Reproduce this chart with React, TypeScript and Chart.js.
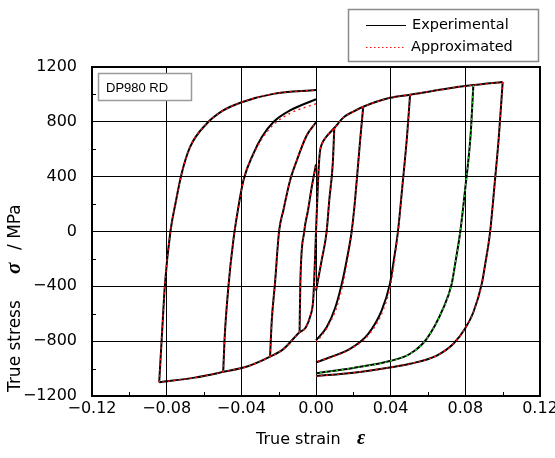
import React, { useEffect, useRef } from 'react';
import { Chart, registerables } from 'chart.js';

Chart.register(...registerables);

// ---- axis ticks ----
const xTickValues = [-0.12, -0.08, -0.04, 0, 0.04, 0.08, 0.12];
const xTickLabels = ['−0.12', '−0.08', '−0.04', '0.00', '0.04', '0.08', '0.12'];
const yTickValues = [-1200, -800, -400, 0, 400, 800, 1200];
const yTickLabels = ['−1200', '−800', '−400', '0', '400', '800', '1200'];
const xMinorTicks = [-0.1, -0.06, -0.02, 0.02, 0.06, 0.1];
const yMinorTicks = [-1000, -600, -200, 200, 600, 1000];

// ---- texts ----
const seriesNames = ['Experimental', 'Approximated'];
const specimenLabel = 'DP980 RD';
const xTitle = 'True strain';
const xSymbol = 'ε';
const yTitle = 'True stress';
const ySymbol = 'σ';
const yUnit = '/ MPa';

// ---- experimental curves [strain, stress MPa] ----
const tensionEnvelope = [[0, 0], [0.0006, 200], [0.0012, 400], [0.002, 570], [0.0032, 640], [0.005, 682], [0.0098, 755], [0.015, 835], [0.02, 875], [0.0253, 910], [0.0396, 975], [0.0504, 998], [0.0682, 1038], [0.0843, 1068], [0.1, 1090]];
const compressionEnvelope = [[0, 0], [-0.0008, -300], [-0.0015, -500], [-0.003, -615], [-0.0055, -700], [-0.0088, -735], [-0.0175, -858], [-0.0246, -913], [-0.0365, -983], [-0.0497, -1024], [-0.065, -1066], [-0.084, -1100]];

const reverseT1 = [[0.0098, 755], [0.009, 500], [0.0071, 226], [0.0057, 0], [0.003, -212], [0.0007, -382], [0, -432]];
const reverseT2 = [[0.0253, 910], [0.0236, 659], [0.0209, 226], [0.0191, 0], [0.0164, -212], [0.0138, -382], [0.0102, -560], [0.0057, -698], [0, -795]];
const reverseT3 = [[0.0504, 998], [0.0488, 700], [0.0462, 320], [0.0439, 0], [0.0418, -200], [0.0396, -382], [0.0352, -576], [0.028, -746], [0.0182, -856], [0.0075, -917], [0, -955]];
const reverseT4 = [[0.0843, 1068], [0.0828, 700], [0.08, 320], [0.0773, 0], [0.0745, -240], [0.0727, -382], [0.068, -565], [0.0593, -783], [0.0504, -892], [0.0396, -945], [0.02, -995], [0, -1035]];
const reverseT5 = [[0.1, 1090], [0.098, 700], [0.0955, 317], [0.0933, 0], [0.0905, -250], [0.0888, -382], [0.0843, -589], [0.0798, -710], [0.0736, -819], [0.0647, -905], [0.0504, -965], [0.0396, -992], [0.02, -1030], [0, -1055]];

const reverseC1 = [[-0.0088, -735], [-0.0084, -382], [-0.0063, 0], [-0.0043, 153], [-0.0023, 323], [0, 490]];
const reverseC2 = [[-0.0246, -913], [-0.0237, -650], [-0.022, -382], [-0.0198, 0], [-0.0175, 153], [-0.0139, 372], [-0.0103, 518], [-0.005, 700], [0, 797]];
const reverseC3 = [[-0.0497, -1024], [-0.049, -790], [-0.0469, -398], [-0.0443, -66], [-0.0416, 177], [-0.0389, 372], [-0.0336, 567], [-0.029, 690], [-0.0229, 797], [-0.0139, 883], [0, 965]];
const reverseC4 = [[-0.084, -1100], [-0.0827, -795], [-0.0809, -382], [-0.078, 0], [-0.0752, 210], [-0.072, 421], [-0.0675, 615], [-0.0586, 786], [-0.0497, 883], [-0.0398, 943], [-0.0229, 1004], [0, 1032]];

// ---- approximated curves that differ visibly ----
const approxT2 = [[0.0253, 910], [0.0236, 659], [0.0209, 226], [0.0192, 0], [0.0168, -212], [0.0144, -382], [0.0109, -560], [0.0064, -690], [0.0015, -785], [0, -805]];
const approxT3 = [[0.0504, 998], [0.0488, 700], [0.0462, 320], [0.044, 0], [0.0421, -200], [0.0401, -382], [0.0359, -576], [0.0287, -746], [0.0186, -856], [0.0075, -920], [0, -950]];
const approxC3 = [[-0.0497, -1024], [-0.049, -790], [-0.0469, -398], [-0.0443, -66], [-0.0416, 177], [-0.0389, 372], [-0.0336, 560], [-0.029, 675], [-0.0229, 778], [-0.0139, 862], [-0.006, 905], [0, 932]];

const experimentalCurves = [tensionEnvelope, compressionEnvelope, reverseT1, reverseT2, reverseT3, reverseT4, reverseT5, reverseC1, reverseC2, reverseC3, reverseC4];
const approximatedRed = [tensionEnvelope, compressionEnvelope, reverseT1, approxT2, approxT3, reverseT5, reverseC1, reverseC2, approxC3, reverseC4];
const approximatedGreen = [reverseT4];

const RED = '#ff1010';
const GREEN = '#22dd22';
const DASH = [2, 3.5];

function ds(pts: number[][], color: string, dash: number[], width: number) {
  return {
    data: pts.map(([x, y]) => ({ x, y })),
    borderColor: color,
    backgroundColor: color,
    borderWidth: width,
    borderDash: dash,
    showLine: true,
    pointRadius: 0,
    pointHoverRadius: 0,
    cubicInterpolationMode: 'monotone',
    fill: false,
  };
}

const decorPlugin = {
  id: 'decor',
  afterDraw(chart: any) {
    const { ctx, chartArea: ca, scales } = chart;
    const x = scales.x;
    const y = scales.y;
    ctx.save();
    // frame
    ctx.strokeStyle = '#000';
    ctx.lineWidth = 2;
    ctx.strokeRect(ca.left, ca.top, ca.right - ca.left, ca.bottom - ca.top);
    // minor ticks (inward)
    ctx.lineWidth = 1;
    ctx.beginPath();
    yMinorTicks.forEach((v) => {
      const py = Math.round(y.getPixelForValue(v)) + 0.5;
      ctx.moveTo(ca.left, py);
      ctx.lineTo(ca.left + 4, py);
    });
    xMinorTicks.forEach((v) => {
      const px = Math.round(x.getPixelForValue(v)) + 0.5;
      ctx.moveTo(px, ca.bottom);
      ctx.lineTo(px, ca.bottom - 4);
    });
    ctx.stroke();

    // specimen label box
    ctx.fillStyle = '#fff';
    ctx.fillRect(ca.left + 6, ca.top + 6, 93, 28);
    ctx.strokeStyle = '#9a9a9a';
    ctx.lineWidth = 1.5;
    ctx.strokeRect(ca.left + 6.5, ca.top + 6.5, 93, 27);
    ctx.fillStyle = '#000';
    ctx.font = '13px "Liberation Sans", Arial, sans-serif';
    ctx.textAlign = 'left';
    ctx.textBaseline = 'middle';
    ctx.fillText(specimenLabel, ca.left + 14, ca.top + 21);

    // legend box
    ctx.strokeStyle = '#8a8a8a';
    ctx.lineWidth = 1.5;
    ctx.strokeRect(348.5, 9.5, 190, 52);
    ctx.strokeStyle = '#000';
    ctx.lineWidth = 1.2;
    ctx.setLineDash([]);
    ctx.beginPath();
    ctx.moveTo(366, 25.5);
    ctx.lineTo(406, 25.5);
    ctx.stroke();
    ctx.strokeStyle = RED;
    ctx.setLineDash([1.5, 2.5]);
    ctx.beginPath();
    ctx.moveTo(366, 47.5);
    ctx.lineTo(406, 47.5);
    ctx.stroke();
    ctx.setLineDash([]);
    ctx.fillStyle = '#000';
    ctx.font = '14.5px "DejaVu Sans", sans-serif';
    ctx.fillText(seriesNames[0], 412, 25);
    ctx.fillText(seriesNames[1], 411, 47);

    // x title
    ctx.textBaseline = 'alphabetic';
    ctx.font = '16px "DejaVu Sans", sans-serif';
    ctx.fillText(xTitle, 256, 444);
    ctx.font = 'bold italic 20px "Liberation Serif", serif';
    ctx.fillText(xSymbol, 357, 444);

    // y title (rotated)
    ctx.save();
    ctx.translate(20, 392);
    ctx.rotate(-Math.PI / 2);
    ctx.font = '17px "DejaVu Sans", sans-serif';
    ctx.fillText(yTitle, 0, 0);
    ctx.font = 'bold italic 21px "Liberation Serif", serif';
    ctx.fillText(ySymbol, 118, 0);
    ctx.font = '17px "DejaVu Sans", sans-serif';
    ctx.fillText(yUnit, 142, 0);
    ctx.restore();

    ctx.restore();
  },
};

export default function App() {
  const ref = useRef<HTMLCanvasElement | null>(null);
  useEffect(() => {
    if (!ref.current) return;
    const datasets: any[] = [];
    // datasets with lower index are drawn on top: approximated first
    approximatedGreen.forEach((c) => datasets.push(ds(c, GREEN, DASH, 1.4)));
    approximatedRed.forEach((c) => datasets.push(ds(c, RED, DASH, 1.4)));
    experimentalCurves.forEach((c) => datasets.push(ds(c, '#000', [], 2)));

    const chart = new Chart(ref.current, {
      type: 'scatter',
      data: { datasets },
      options: {
        animation: false,
        responsive: false,
        maintainAspectRatio: false,
        layout: { padding: { left: 0, right: 15, top: 67, bottom: 0 } },
        plugins: { legend: { display: false }, tooltip: { enabled: false }, title: { display: false } },
        events: [],
        scales: {
          x: {
            type: 'linear',
            min: -0.12,
            max: 0.12,
            afterBuildTicks: (s: any) => { s.ticks = xTickValues.map((v) => ({ value: v })); },
            afterFit: (s: any) => { s.height = 62; s.paddingLeft = 0; s.paddingRight = 0; },
            ticks: {
              autoSkip: false,
              maxRotation: 0,
              padding: 3,
              color: '#000',
              font: { family: '"DejaVu Sans", sans-serif', size: 16 },
              callback: (_v: any, i: number) => xTickLabels[i],
            },
            grid: { color: '#000', lineWidth: 1, drawTicks: false },
            border: { display: true, color: '#000', width: 2 },
          },
          y: {
            type: 'linear',
            min: -1200,
            max: 1200,
            afterBuildTicks: (s: any) => { s.ticks = yTickValues.map((v) => ({ value: v })); },
            afterFit: (s: any) => { s.width = 92; s.paddingTop = 0; s.paddingBottom = 0; },
            ticks: {
              autoSkip: false,
              padding: 15,
              color: '#000',
              font: { family: '"DejaVu Sans", sans-serif', size: 16 },
              callback: (_v: any, i: number) => yTickLabels[i],
            },
            grid: { color: '#000', lineWidth: 1, drawTicks: false },
            border: { display: true, color: '#000', width: 2 },
          },
        },
      },
      plugins: [decorPlugin],
    });
    return () => chart.destroy();
  }, []);

  return (
    <div style={{ position: 'absolute', left: 0, top: 0, width: 555, height: 458, background: '#fff' }}>
      <canvas ref={ref} width={555} height={458} style={{ display: 'block' }} />
    </div>
  );
}
